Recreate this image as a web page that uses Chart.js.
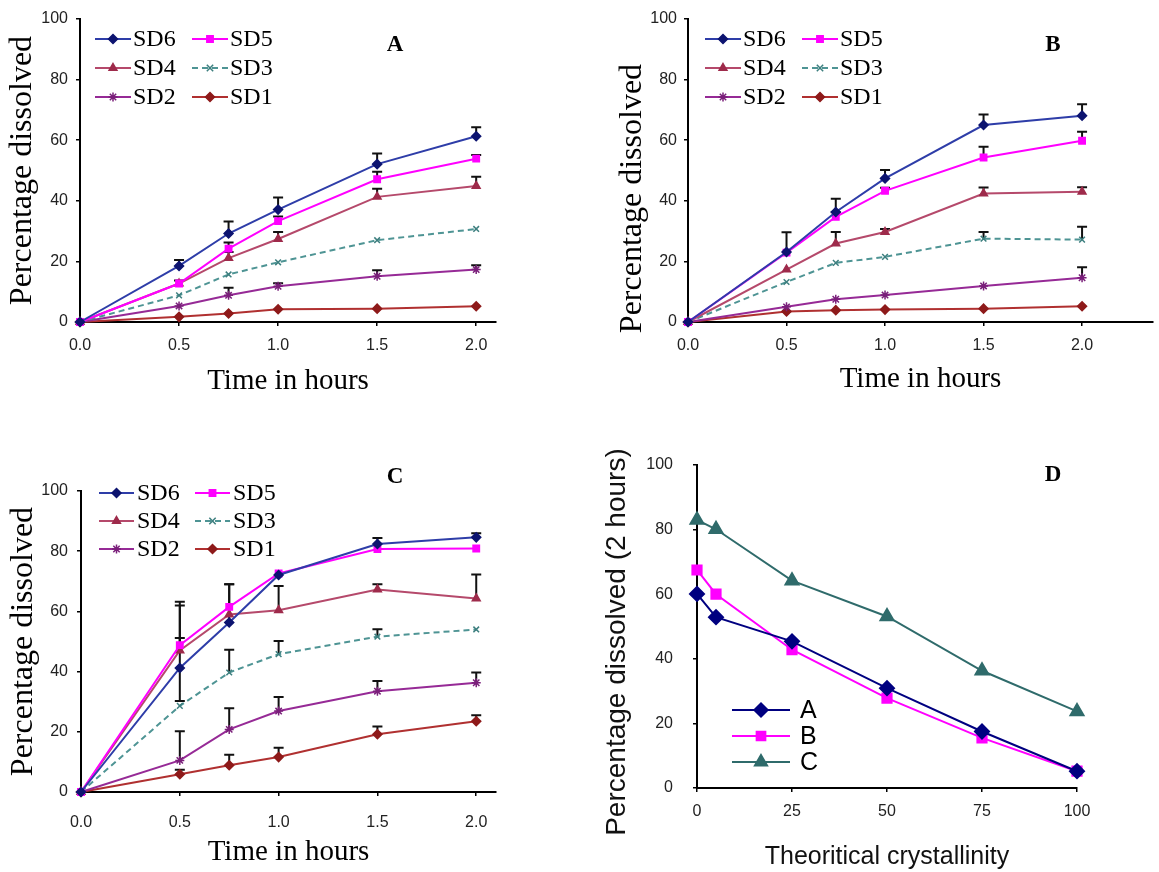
<!DOCTYPE html>
<html>
<head>
<meta charset="utf-8">
<script src="https://cdn.jsdelivr.net/npm/chart.js@4.4.0/dist/chart.umd.min.js"></script>
<style>
  body { margin: 0; background: #fff; width: 1159px; height: 872px; position: relative; overflow: hidden; }
  .panel { position: absolute; }
  .letter { position: absolute; font: bold 23px "Liberation Serif", "Times New Roman", serif; color: #000; transform: translate(-50%, -50%); }
</style>
</head>
<body>
<div class="panel" style="left:0px;top:0px;width:520px;height:410px"><canvas id="chartA"></canvas></div>
<div class="panel" style="left:580px;top:0px;width:579px;height:410px"><canvas id="chartB"></canvas></div>
<div class="panel" style="left:0px;top:430px;width:520px;height:442px"><canvas id="chartC"></canvas></div>
<div class="panel" style="left:580px;top:430px;width:579px;height:442px"><canvas id="chartD"></canvas></div>
<div class="letter" style="left:395px;top:44px">A</div>
<div class="letter" style="left:1053px;top:44px">B</div>
<div class="letter" style="left:395px;top:476px">C</div>
<div class="letter" style="left:1053px;top:474px">D</div>
<script>
// x values (hours) for panels A-C
const timeHours = [0, 0.5, 0.75, 1, 1.5, 2];
const seriesNames = ['SD6', 'SD5', 'SD4', 'SD3', 'SD2', 'SD1'];

// panel A
const aSD6 = [0, 18.5, 29.2, 37.1, 52.1, 61.3];
const aSD5 = [0, 12.7, 24.2, 33.3, 47.1, 53.9];
const aSD4 = [0, 12.7, 21.1, 27.4, 41.3, 44.9];
const aSD3 = [0, 8.8, 15.7, 19.7, 27.0, 30.7];
const aSD2 = [0, 5.3, 8.8, 11.8, 15.1, 17.3];
const aSD1 = [0, 1.7, 2.8, 4.2, 4.4, 5.2];
const aErr6 = [0, 2, 4, 4, 3.5, 3];
const aErr5 = [0, 0, 2, 1.5, 2.5, 1.2];
const aErr4 = [0, 1, 2, 2.3, 2.7, 3];
const aErr3 = [0, 0, 0, 0, 0, 0];
const aErr2 = [0, 0, 2.5, 1, 2, 1.4];
const aErr1 = [0, 0, 0, 0, 0, 0];

// panel B
const bSD6 = [0, 23.1, 36.3, 47.4, 65.0, 68.1];
const bSD5 = [0, 22.9, 34.7, 43.3, 54.3, 59.8];
const bSD4 = [0, 17.3, 25.9, 29.7, 42.4, 43.0];
const bSD3 = [0, 13.2, 19.5, 21.5, 27.5, 27.2];
const bSD2 = [0, 5.0, 7.5, 8.9, 11.9, 14.6];
const bSD1 = [0, 3.5, 3.9, 4.1, 4.4, 5.2];
const bErr6 = [0, 6.5, 4.4, 2.8, 3.5, 3.8];
const bErr5 = [0, 0, 1.5, 1, 3.5, 3];
const bErr4 = [0, 0, 3.8, 1, 2, 1.5];
const bErr3 = [0, 0, 0, 0, 2.2, 4.2];
const bErr2 = [0, 0, 0, 0, 0, 3.5];
const bErr1 = [0, 0, 0, 0, 0, 0];

// panel C
const cSD6 = [0, 41.2, 56.3, 72.1, 82.4, 84.6];
const cSD5 = [0, 48.8, 61.5, 72.6, 80.7, 80.9];
const cSD4 = [0, 47.0, 59.0, 60.4, 67.3, 64.3];
const cSD3 = [0, 28.6, 39.7, 45.8, 51.6, 54.0];
const cSD2 = [0, 10.5, 20.8, 26.9, 33.5, 36.3];
const cSD1 = [0, 5.9, 8.9, 11.6, 19.2, 23.5];
const cErr6 = [0, 10, 12.7, 0, 2, 1.4];
const cErr6Low = [0, 11, 0, 0, 0, 0];
const cErr5 = [0, 14.4, 7.5, 0, 0, 0];
const cErr4 = [0, 15, 0, 8, 1.7, 8];
const cErr3 = [0, 0, 7.6, 4.4, 2.5, 0];
const cErr2 = [0, 9.7, 7, 4.7, 3.4, 3.4];
const cErr1 = [0, 1.5, 3.5, 3.1, 2.6, 2];

// panel D
const crystallinity = [0, 5, 25, 50, 75, 100];
const dNames = ['A', 'B', 'C'];
const dA = [60.1, 52.9, 45.4, 30.9, 17.5, 5.2];
const dB = [67.5, 60.0, 42.8, 27.8, 15.5, 5.2];
const dC = [83.0, 80.1, 64.2, 53.1, 36.3, 23.7];

const yTicks = [0, 20, 40, 60, 80, 100];

Chart.defaults.font.family = '"Liberation Sans", Arial, sans-serif';
Chart.defaults.color = '#222';

const serif = '"Liberation Serif", "Times New Roman", serif';

// line / marker look of each SD series
const sdStyle = [
  { line: '#2E3DA8', point: '#0D1470', shape: 'rectRot', r: 4.5 },
  { line: '#FF00FF', point: '#FF00FF', shape: 'rect', r: 4.5 },
  { line: '#B5496B', point: '#9E2B4B', shape: 'triangle', r: 4.5 },
  { line: '#4E9494', point: '#3D7F7F', shape: 'crossRot', r: 4, dash: [6, 4] },
  { line: '#962A96', point: '#7A1F7A', shape: 'star', r: 4.5 },
  { line: '#B03030', point: '#8E1A1A', shape: 'rectRot', r: 4.5 }
];
const dStyle = [
  { line: '#000080', point: '#000080', shape: 'rectRot', r: 7 },
  { line: '#FF00FF', point: '#FF00FF', shape: 'rect', r: 6.5 },
  { line: '#2F6B6B', point: '#2F6B6B', shape: 'triangle', r: 7.5 }
];

function buildSets(vals, errs, lows) {
  return vals.map((v, i) => ({
    label: seriesNames[i],
    data: timeHours.map((t, j) => ({ x: t, y: v[j] })),
    errUp: errs[i],
    errLow: lows ? lows[i] : null,
    borderColor: sdStyle[i].line,
    backgroundColor: sdStyle[i].point,
    pointBorderColor: sdStyle[i].point,
    pointBackgroundColor: sdStyle[i].point,
    pointStyle: sdStyle[i].shape,
    pointRadius: sdStyle[i].r,
    pointBorderWidth: 1.5,
    borderWidth: 2,
    borderDash: sdStyle[i].dash || [],
    tension: 0,
    clip: false
  }));
}

// error bars, drawn under the lines
const errorBars = {
  id: 'errorBars',
  beforeDatasetsDraw(chart) {
    const ctx = chart.ctx;
    const ys = chart.scales.y;
    ctx.save();
    ctx.strokeStyle = '#111';
    ctx.lineWidth = 2;
    chart.data.datasets.forEach((ds, i) => {
      if (!ds.errUp) return;
      const meta = chart.getDatasetMeta(i);
      ds.data.forEach((p, j) => {
        const up = ds.errUp[j] || 0;
        const low = ds.errLow ? (ds.errLow[j] || 0) : 0;
        if (!up && !low) return;
        const x = meta.data[j].x;
        const y1 = ys.getPixelForValue(p.y + up);
        const y2 = ys.getPixelForValue(p.y - low);
        ctx.beginPath();
        ctx.moveTo(x, y2);
        ctx.lineTo(x, y1);
        if (up) { ctx.moveTo(x - 5, y1); ctx.lineTo(x + 5, y1); }
        if (low) { ctx.moveTo(x - 5, y2); ctx.lineTo(x + 5, y2); }
        ctx.stroke();
      });
    });
    ctx.restore();
  }
};

// legend with line + marker, placed inside the plot
const insideLegend = {
  id: 'insideLegend',
  afterDraw(chart, args, o) {
    const ctx = chart.ctx;
    ctx.save();
    chart.data.datasets.forEach((ds, i) => {
      const col = i % o.cols;
      const row = Math.floor(i / o.cols);
      const x = o.x + col * o.colGap;
      const y = o.y + row * o.rowGap;
      ctx.strokeStyle = ds.borderColor;
      ctx.lineWidth = 2;
      ctx.setLineDash(ds.borderDash || []);
      ctx.beginPath();
      ctx.moveTo(x, y);
      ctx.lineTo(x + o.lineLen, y);
      ctx.stroke();
      ctx.setLineDash([]);
      ctx.fillStyle = ds.pointBackgroundColor;
      ctx.strokeStyle = ds.pointBorderColor;
      ctx.lineWidth = 1.5;
      Chart.helpers.drawPoint(ctx, { pointStyle: ds.pointStyle, radius: o.r || ds.pointRadius, rotation: 0, borderWidth: 1.5 }, x + o.lineLen / 2, y);
      ctx.fillStyle = '#000';
      ctx.font = o.font;
      ctx.textBaseline = 'middle';
      ctx.textAlign = 'left';
      ctx.fillText(ds.label, x + o.lineLen + o.textGap, y + 1);
    });
    ctx.restore();
  }
};

function axisBits(o) {
  return {
    grid: { display: true, drawOnChartArea: false, drawTicks: true, tickLength: 4, color: '#000', lineWidth: 1.5 },
    border: { display: true, color: '#000', width: 2 },
    afterFit: o.fit
  };
}

function sdChart(id, sets, p) {
  return new Chart(document.getElementById(id), {
    type: 'line',
    data: { datasets: sets },
    options: {
      responsive: true,
      maintainAspectRatio: false,
      animation: false,
      layout: { padding: { top: p.top, right: p.right, left: 0, bottom: p.bottom } },
      plugins: { legend: { display: false }, tooltip: { enabled: false }, insideLegend: p.legend },
      scales: {
        x: Object.assign(axisBits({ fit: s => { s.height = p.xh; } }), {
          type: 'linear', min: 0, max: p.xmax,
          ticks: { stepSize: 0.5, includeBounds: false, autoSkip: false, padding: p.xpad, font: { size: 16 }, callback: v => v.toFixed(1) },
          title: { display: true, text: 'Time in hours', color: '#000', font: { family: serif, size: 29 }, padding: { top: 0, bottom: p.xtpad } }
        }),
        y: Object.assign(axisBits({ fit: s => { s.width = p.yw; } }), {
          min: 0, max: 100,
          afterBuildTicks: s => { s.ticks = yTicks.map(v => ({ value: v })); },
          ticks: { padding: p.ypad, font: { size: 16 } },
          title: { display: true, text: 'Percentage dissolved' + (p.ytail || ''), color: '#000', font: { family: serif, size: 32 }, padding: { top: p.ytpad, bottom: 0 } }
        })
      }
    },
    plugins: [errorBars, insideLegend]
  });
}

const legendFont = '24px ' + serif;

sdChart('chartA', buildSets([aSD6, aSD5, aSD4, aSD3, aSD2, aSD1], [aErr6, aErr5, aErr4, aErr3, aErr2, aErr1]), {
  top: 19, right: 24, bottom: 0, xh: 88, yw: 80, xmax: 2.1, xpad: 10, ypad: 8, xtpad: 11, ytpad: 3,
  legend: { x: 95, y: 39, cols: 2, colGap: 97, rowGap: 29, lineLen: 36, textGap: 2, font: legendFont, r: 4.5 }
});

// title in B sits lower than the plot centre: pad the end of the text
sdChart('chartB', buildSets([bSD6, bSD5, bSD4, bSD3, bSD2, bSD1], [bErr6, bErr5, bErr4, bErr3, bErr2, bErr1]), {
  top: 19, right: 4, bottom: 0, xh: 88, yw: 108, xmax: 2.36, xpad: 10, ypad: 7, xtpad: 13, ytpad: 33,
  ytail: '\u00A0'.repeat(7),
  legend: { x: 125, y: 39, cols: 2, colGap: 97, rowGap: 29, lineLen: 36, textGap: 2, font: legendFont, r: 4.5 }
});

sdChart('chartC', buildSets([cSD6, cSD5, cSD4, cSD3, cSD2, cSD1], [cErr6, cErr5, cErr4, cErr3, cErr2, cErr1], [cErr6Low, null, null, null, null, null]), {
  top: 61, right: 24, bottom: 0, xh: 80, yw: 81, xmax: 2.1, xpad: 17, ypad: 9, xtpad: 2, ytpad: 4,
  legend: { x: 99, y: 63, cols: 2, colGap: 96, rowGap: 28, lineLen: 35, textGap: 3, font: legendFont, r: 4.5 }
});

// panel D
new Chart(document.getElementById('chartD'), {
  type: 'line',
  data: {
    datasets: [dA, dB, dC].map((v, i) => ({
      label: dNames[i],
      data: crystallinity.map((c, j) => ({ x: c, y: v[j] })),
      borderColor: dStyle[i].line,
      pointBorderColor: dStyle[i].point,
      pointBackgroundColor: dStyle[i].point,
      pointStyle: dStyle[i].shape,
      pointRadius: dStyle[i].r,
      borderWidth: 2,
      tension: 0,
      clip: false
    }))
  },
  options: {
    responsive: true,
    maintainAspectRatio: false,
    animation: false,
    layout: { padding: { top: 35, right: 82, left: 0, bottom: 0 } },
    plugins: {
      legend: { display: false }, tooltip: { enabled: false },
      insideLegend: { x: 152, y: 280, cols: 1, colGap: 0, rowGap: 26, lineLen: 58, textGap: 10, font: '25px "Liberation Sans", Arial, sans-serif' }
    },
    scales: {
      x: Object.assign(axisBits({ fit: s => { s.height = 84; } }), {
        type: 'linear', min: 0, max: 100,
        ticks: { stepSize: 25, padding: 10, font: { size: 16 } },
        title: { display: true, text: 'Theoritical crystallinity', color: '#111', font: { size: 25 }, padding: { top: 0, bottom: 0 } }
      }),
      y: Object.assign(axisBits({ fit: s => { s.width = 117; } }), {
        min: 0, max: 100,
        afterBuildTicks: s => { s.ticks = yTicks.map(v => ({ value: v })); },
        ticks: { padding: 20, font: { size: 16 } },
        title: { display: true, text: 'Percentage dissolved (2 hours)' + '\u00A0'.repeat(4), color: '#111', font: { size: 28 }, padding: { top: 20, bottom: 0 } }
      })
    }
  },
  plugins: [insideLegend]
});
</script>
</body>
</html>
